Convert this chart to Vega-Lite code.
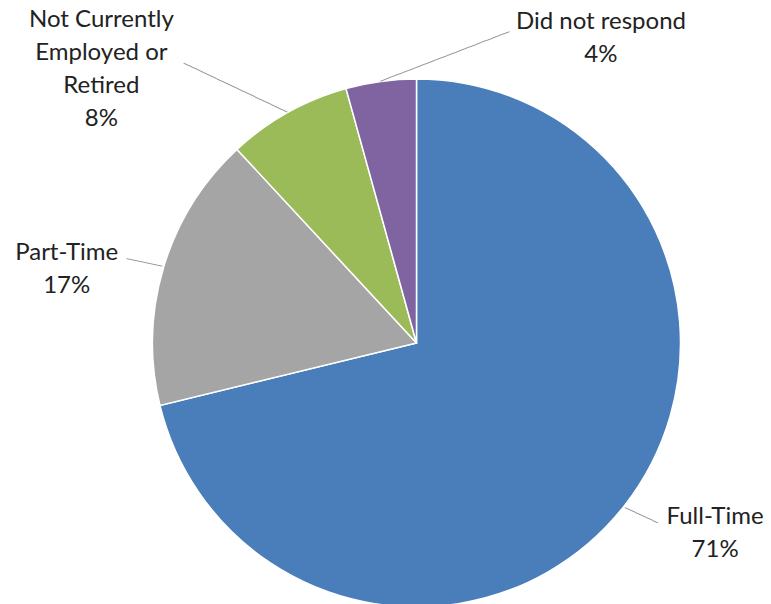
{
  "$schema": "https://vega.github.io/schema/vega-lite/v6.json",
  "autosize": "none",
  "width": 709,
  "height": 522,
  "padding": {"left": 62, "top": 82, "right": 0, "bottom": 0},
  "background": "white",
  "config": {"view": {"stroke": null}},
  "data": {
    "values": [
      {"category": "Full-Time", "value": 71.2, "order": 1, "label": "Full-Time\n71%"},
      {"category": "Part-Time", "value": 16.9, "order": 2, "label": "Part-Time\n17%"},
      {"category": "Not Currently Employed or Retired", "value": 7.6, "order": 3, "label": "Not Currently\nEmployed or\nRetired\n8%"},
      {"category": "Did not respond", "value": 4.3, "order": 4, "label": "Did not respond\n4%"}
    ]
  },
  "encoding": {
    "theta": {"field": "value", "type": "quantitative", "stack": true},
    "order": {"field": "order", "type": "quantitative"}
  },
  "layer": [
    {
      "mark": {"type": "arc", "outerRadius": 264, "stroke": "white", "strokeWidth": 1.5},
      "encoding": {
        "color": {
          "field": "category",
          "type": "nominal",
          "scale": {
            "domain": ["Full-Time", "Part-Time", "Not Currently Employed or Retired", "Did not respond"],
            "range": ["#4A7EBB", "#A5A5A5", "#9BBB59", "#8064A2"]
          },
          "legend": null
        }
      }
    },
    {
      "mark": {"type": "text", "radius": 264, "angle": 25, "dx": 19.4, "dy": 1.4, "align": "center", "baseline": "middle", "fontSize": 10, "font": "DejaVu Sans", "fill": "#8c8c8c"},
      "encoding": {"text": {"condition": {"test": "datum.category === 'Full-Time'", "value": "──────"}, "value": ""}}
    },
    {
      "mark": {"type": "text", "radius": 264, "angle": 12, "dx": -19.9, "dy": 0, "align": "center", "baseline": "middle", "fontSize": 10, "font": "DejaVu Sans", "fill": "#8c8c8c"},
      "encoding": {"text": {"condition": {"test": "datum.category === 'Part-Time'", "value": "──────"}, "value": ""}}
    },
    {
      "mark": {"type": "text", "radius": 264, "angle": 25.3, "dx": -58, "dy": 0.3, "align": "center", "baseline": "middle", "fontSize": 10, "font": "DejaVu Sans", "fill": "#8c8c8c"},
      "encoding": {"text": {"condition": {"test": "datum.category === 'Not Currently Employed or Retired'", "value": "───────────────────"}, "value": ""}}
    },
    {
      "mark": {"type": "text", "radius": 264, "angle": -21, "dx": 68.6, "dy": 0, "align": "center", "baseline": "middle", "fontSize": 10, "font": "DejaVu Sans", "fill": "#8c8c8c"},
      "encoding": {"text": {"condition": {"test": "datum.category === 'Did not respond'", "value": "───────────────────────"}, "value": ""}}
    },
    {
      "mark": {"type": "text", "radius": 264, "dx": 91, "dy": 11, "align": "center", "baseline": "middle", "lineBreak": "\n", "lineHeight": 33, "fontSize": 24, "font": "Lato", "fill": "#222222"},
      "encoding": {"text": {"condition": {"test": "datum.category === 'Full-Time'", "field": "label"}, "value": ""}}
    },
    {
      "mark": {"type": "text", "radius": 264, "dx": -97, "dy": -14, "align": "center", "baseline": "middle", "lineBreak": "\n", "lineHeight": 33, "fontSize": 24, "font": "Lato", "fill": "#222222"},
      "encoding": {"text": {"condition": {"test": "datum.category === 'Part-Time'", "field": "label"}, "value": ""}}
    },
    {
      "mark": {"type": "text", "radius": 264, "dx": -186.5, "dy": -92.5, "align": "center", "baseline": "middle", "lineBreak": "\n", "lineHeight": 33, "fontSize": 24, "font": "Lato", "fill": "#222222"},
      "encoding": {"text": {"condition": {"test": "datum.category === 'Not Currently Employed or Retired'", "field": "label"}, "value": ""}}
    },
    {
      "mark": {"type": "text", "radius": 264, "dx": 220, "dy": -59.4, "align": "center", "baseline": "middle", "lineBreak": "\n", "lineHeight": 33, "fontSize": 24, "font": "Lato", "fill": "#222222"},
      "encoding": {"text": {"condition": {"test": "datum.category === 'Did not respond'", "field": "label"}, "value": ""}}
    }
  ]
}
